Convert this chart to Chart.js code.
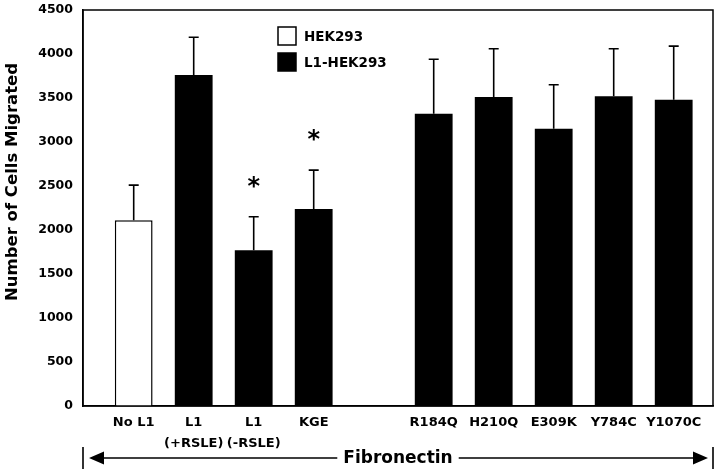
<!DOCTYPE html>
<html>
<head>
<meta charset="utf-8">
<script src="https://cdn.jsdelivr.net/npm/chart.js@4"></script>
<style>
  body { margin: 0; background: #fff; }
  canvas { display: block; }
</style>
</head>
<body>
<canvas id="chart" width="720" height="473"></canvas>
<script>
// categories, the empty one is the gap between the two groups
const categories = ['No L1', ['L1', '(+RSLE)'], ['L1', '(-RSLE)'], 'KGE', '', 'R184Q', 'H210Q', 'E309K', 'Y784C', 'Y1070C'];
const hek293 = [2110, null, null, null, null, null, null, null, null, null];
const l1Hek293 = [null, 3760, 1770, 2240, null, 3320, 3510, 3150, 3520, 3480];
const errors = [400, 430, 380, 440, null, 620, 550, 500, 540, 610];
const starred = [false, false, true, true, false, false, false, false, false, false];
const yTicks = [0, 500, 1000, 1500, 2000, 2500, 3000, 3500, 4000, 4500];
const yTitle = 'Number of Cells Migrated';
const groupLabel = 'Fibronectin';

const FONT = 'DejaVu Sans';

function toPoints(arr) {
    return arr.map((v, i) => ({ x: i, y: v }));
}

const extras = {
    id: 'extras',
    afterDatasetsDraw(chart) {
        const ctx = chart.ctx;
        const area = chart.chartArea;
        const yScale = chart.scales.y;

        // error bars + asterisks
        ctx.save();
        ctx.strokeStyle = '#000';
        ctx.lineWidth = 1.6;
        chart.data.datasets.forEach((ds, d) => {
            const meta = chart.getDatasetMeta(d);
            ds.data.forEach((pt, i) => {
                if (pt.y == null) return;
                const bar = meta.data[i];
                const top = yScale.getPixelForValue(pt.y + errors[i]);
                ctx.beginPath();
                ctx.moveTo(bar.x, bar.y);
                ctx.lineTo(bar.x, top);
                ctx.moveTo(bar.x - 5, top);
                ctx.lineTo(bar.x + 5, top);
                ctx.stroke();
                if (starred[i]) {
                    ctx.font = 'bold 24px ' + FONT;
                    ctx.fillStyle = '#000';
                    ctx.textAlign = 'center';
                    ctx.textBaseline = 'alphabetic';
                    const m = ctx.measureText('*');
                    const mid = (m.actualBoundingBoxAscent - m.actualBoundingBoxDescent) / 2;
                    ctx.fillText('*', bar.x, top - 35 + mid);
                }
            });
        });

        // frame
        ctx.lineWidth = 1.5;
        ctx.strokeRect(area.left, area.top, area.right - area.left, area.bottom - area.top);

        // y axis title
        ctx.save();
        ctx.translate(13, 182);
        ctx.rotate(-Math.PI / 2);
        ctx.font = 'bold 16.5px ' + FONT;
        ctx.fillStyle = '#000';
        ctx.textAlign = 'center';
        ctx.textBaseline = 'middle';
        ctx.fillText(yTitle, 0, 0);
        ctx.restore();

        // legend
        ctx.font = 'bold 13.5px ' + FONT;
        ctx.textAlign = 'left';
        ctx.textBaseline = 'middle';
        chart.data.datasets.forEach((ds, d) => {
            const cy = 36 + d * 26;
            ctx.fillStyle = ds.backgroundColor;
            ctx.fillRect(278, cy - 9, 18, 18);
            ctx.lineWidth = 1.5;
            ctx.strokeStyle = '#000';
            ctx.strokeRect(278, cy - 9, 18, 18);
            ctx.fillStyle = '#000';
            ctx.fillText(ds.label, 304, cy + 1);
        });

        // Fibronectin arrow
        const ay = 458;
        const left = area.left, right = area.right;
        const mid = (left + right) / 2;
        ctx.font = 'bold 17px ' + FONT;
        ctx.textAlign = 'center';
        ctx.textBaseline = 'middle';
        const tw = ctx.measureText(groupLabel).width;
        ctx.fillText(groupLabel, mid, ay + 1);
        ctx.lineWidth = 1.6;
        ctx.beginPath();
        ctx.moveTo(left, ay - 11);
        ctx.lineTo(left, ay + 11);
        ctx.moveTo(right, ay - 11);
        ctx.lineTo(right, ay + 11);
        ctx.moveTo(left + 20, ay);
        ctx.lineTo(mid - tw / 2 - 6, ay);
        ctx.moveTo(mid + tw / 2 + 6, ay);
        ctx.lineTo(right - 18, ay);
        ctx.stroke();
        ctx.beginPath();
        ctx.moveTo(left + 6, ay);
        ctx.lineTo(left + 21, ay - 6.5);
        ctx.lineTo(left + 21, ay + 6.5);
        ctx.closePath();
        ctx.moveTo(right - 5, ay);
        ctx.lineTo(right - 20, ay - 6.5);
        ctx.lineTo(right - 20, ay + 6.5);
        ctx.closePath();
        ctx.fill();
        ctx.restore();
    }
};

new Chart(document.getElementById('chart'), {
    type: 'bar',
    data: {
        datasets: [{
            label: 'HEK293',
            data: toPoints(hek293),
            backgroundColor: '#ffffff',
            borderColor: '#000',
            borderWidth: 1.5,
            grouped: false
        }, {
            label: 'L1-HEK293',
            data: toPoints(l1Hek293),
            backgroundColor: '#000000',
            borderColor: '#000',
            borderWidth: 0,
            grouped: false
        }]
    },
    options: {
        responsive: false,
        animation: false,
        devicePixelRatio: 1,
        layout: {
            padding: { top: 10, right: 7, bottom: 0, left: 0 }
        },
        barPercentage: 0.63,
        categoryPercentage: 1,
        plugins: {
            legend: { display: false },
            tooltip: { enabled: false }
        },
        scales: {
            x: {
                type: 'linear',
                offset: false,
                min: -0.845,
                max: 9.655,
                grid: { display: false, drawTicks: false },
                border: { display: true, color: '#000', width: 1.5 },
                afterBuildTicks: function(scale) {
                    scale.ticks = categories.map((c, i) => ({ value: i }));
                },
                afterFit: function(scale) {
                    scale.height = 67;
                    scale.paddingLeft = 0;
                    scale.paddingRight = 0;
                },
                ticks: {
                    autoSkip: false,
                    maxRotation: 0,
                    padding: 7,
                    color: '#000',
                    font: { family: FONT, size: 13, weight: 'bold', lineHeight: 1.55 },
                    callback: function(v) {
                        return categories[v];
                    }
                }
            },
            y: {
                min: 0,
                max: 4500,
                grid: { display: false, drawTicks: false },
                border: { display: true, color: '#000', width: 1.5 },
                afterBuildTicks: function(scale) {
                    scale.ticks = yTicks.map(v => ({ value: v }));
                },
                afterFit: function(scale) {
                    scale.width = 83;
                    scale.paddingTop = 0;
                    scale.paddingBottom = 0;
                },
                ticks: {
                    padding: 10,
                    color: '#000',
                    font: { family: FONT, size: 12.5, weight: 'bold' },
                    callback: function(v) {
                        return String(v);
                    }
                }
            }
        }
    },
    plugins: [extras]
});
</script>
</body>
</html>
